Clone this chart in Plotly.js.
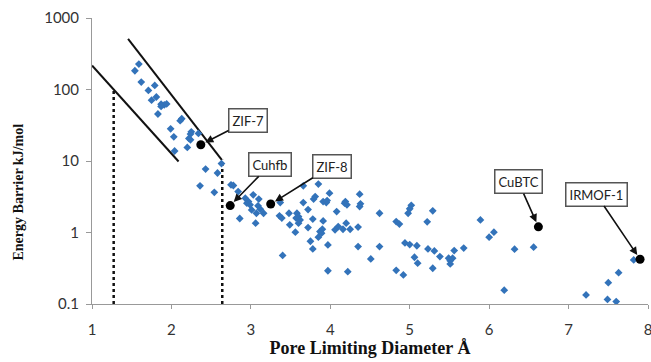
<!DOCTYPE html>
<html>
<head>
<meta charset="utf-8">
<script src="https://cdn.plot.ly/plotly-3.0.1.min.js"></script>
<style>
  html, body { margin: 0; padding: 0; background: #fff; }
  #chart { width: 651px; height: 362px; }
</style>
</head>
<body>
<div id="chart"></div>
<script>
// Pore limiting diameter (Å) of the screened structures
const poreDiameter = [
  1.59, 1.54, 1.62, 1.79, 1.71, 1.81, 1.75, 1.87, 1.91, 1.94, 1.87, 1.83,
  2.13, 2.11, 1.99, 2.25, 2.24, 2.34, 2.03, 2.22, 2.24, 2.20, 2.04,
  2.63, 2.43, 2.58,
  2.36, 2.54, 2.75, 2.78, 2.84, 2.86, 2.93, 2.97, 2.95, 2.99, 3.03, 3.10,
  3.09, 3.12, 3.01, 3.07, 3.16, 3.06,
  3.37, 3.36, 3.39, 3.48, 3.49, 3.58, 3.60, 3.57, 3.62, 3.60, 3.66, 3.66,
  3.72, 3.56, 3.72, 3.78, 3.75, 3.40, 3.85, 3.78,
  3.81, 3.79, 3.99, 3.91, 3.95, 3.96, 4.19, 4.21, 4.18, 4.37, 4.38, 4.37,
  4.08, 3.91, 3.90, 3.87, 3.89, 3.85, 4.06, 4.10, 4.16, 4.25, 4.20, 4.35,
  3.97, 4.35, 4.62, 4.62, 4.51, 3.97, 4.22,
  4.83, 4.87, 5.02, 5.00, 4.98, 4.94, 5.00, 5.09, 5.06, 5.10, 5.22, 4.83, 4.92,
  5.29, 5.23, 5.31, 5.38, 5.56, 5.68, 5.49, 5.54, 5.51, 5.51, 5.29,
  5.89, 6.06, 6.00, 6.32, 6.56, 6.19,
  7.22, 7.49, 7.60, 7.50, 7.63, 7.82
];
// Energy barrier (kJ/mol)
const energyBarrier = [
  227, 183, 127, 114, 97, 78.5, 70.8, 62.3, 61, 62.9, 58, 45.4,
  39, 36.6, 28.2, 25.6, 23.8, 24.3, 21.8, 20.7, 19.8, 15.5, 13.8,
  9.2, 7.7, 6.8,
  4.5, 3.65, 4.64, 4.54, 3.74, 1.57, 3.02, 2.71, 2.57, 2.44, 3.36, 2.93,
  2.36, 2.12, 2.07, 1.86, 1.86, 1.35,
  2.62, 1.71, 1.59, 1.86, 1.28, 1.86, 1.67, 1.59, 1.50, 1.35, 4.5, 2.62,
  2.09, 1.01, 1.17, 1.54, 0.755, 0.478, 4.75, 0.589,
  3.18, 2.93, 3.55, 2.71, 2.62, 2.80, 2.71, 2.44, 2.57, 3.44, 2.52, 2.31,
  1.96, 1.45, 1.11, 1.03, 0.98, 0.86, 1.09, 1.21, 1.11, 1.11, 1.35, 1.19,
  0.67, 0.635, 0.635, 1.86, 0.427, 0.292, 0.283,
  1.42, 1.31, 2.40, 2.15, 1.86, 0.715, 0.677, 0.653, 0.451, 0.372, 1.41, 0.296, 0.255,
  2.01, 0.589, 0.552, 0.460, 0.558, 0.605, 0.437, 0.437, 0.404, 0.363, 0.316,
  1.50, 1.01, 0.86, 0.584, 0.623, 0.156,
  0.134, 0.116, 0.108, 0.199, 0.274, 0.413
];

// Highlighted materials
const mofNames = ["ZIF-7", "Cuhfb", "ZIF-8", "CuBTC", "IRMOF-1"];
const mofDiameter = [2.37, 2.74, 3.25, 6.62, 7.90];
const mofBarrier = [16.9, 2.38, 2.50, 1.20, 0.423];

// Bounding lines
const lowerLineX = [1.0, 2.09];
const lowerLineY = [217, 9.84];
const upperLineX = [1.454, 2.634];
const upperLineY = [510, 10.4];
const leftCutX = [1.273, 1.273];
const leftCutY = [0.1, 99];
const rightCutX = [2.64, 2.64];
const rightCutY = [0.1, 10.4];

// Axis ticks and titles
const xTickVals = [1, 2, 3, 4, 5, 6, 7, 8];
const yTickVals = [0.1, 1, 10, 100, 1000];
const yTickText = ["0.1", "1", "10", "100", "1000"];
const xTitle = "Pore Limiting Diameter Å";
const yTitle = "Energy Barrier kJ/mol";

// Label box offsets (pixels) for each highlighted material
const labelAx = [47, 40, 61, -20, -44];
const labelAy = [-24, -41, -38, -45, -65];

const sans = 'Lato, "Open Sans", sans-serif';
const serif = '"Liberation Serif", "DejaVu Serif", serif';

const traces = [
  {
    x: lowerLineX, y: lowerLineY, type: 'scatter', mode: 'lines',
    line: { color: '#111', width: 2 }, hoverinfo: 'skip'
  },
  {
    x: upperLineX, y: upperLineY, type: 'scatter', mode: 'lines',
    line: { color: '#111', width: 2 }, hoverinfo: 'skip'
  },
  {
    x: leftCutX, y: leftCutY, type: 'scatter', mode: 'lines',
    line: { color: '#111', width: 2.5, dash: 'dot' }, hoverinfo: 'skip'
  },
  {
    x: rightCutX, y: rightCutY, type: 'scatter', mode: 'lines',
    line: { color: '#111', width: 2.5, dash: 'dot' }, hoverinfo: 'skip'
  },
  {
    x: poreDiameter, y: energyBarrier, type: 'scatter', mode: 'markers',
    marker: { symbol: 'diamond', size: 6, color: '#3373BA' }
  },
  {
    x: mofDiameter, y: mofBarrier, type: 'scatter', mode: 'markers',
    marker: { symbol: 'circle', size: 9, color: '#000' }
  }
];

const annotations = mofNames.map((name, i) => ({
  x: mofDiameter[i], y: Math.log10(mofBarrier[i]),
  xref: 'x', yref: 'y',
  text: name,
  showarrow: true, arrowhead: 2, arrowsize: 1, arrowwidth: 1.6, arrowcolor: '#111',
  standoff: 5,
  ax: labelAx[i], ay: labelAy[i],
  font: { family: sans, size: 13, color: '#222' },
  bgcolor: '#fff', bordercolor: '#555', borderwidth: 1.5, borderpad: 3
}));

// Y axis title placed as a rotated annotation (it sits below the plot's centre)
annotations.push({
  text: '<b>' + yTitle + '</b>',
  xref: 'paper', yref: 'paper',
  x: -0.133, y: 0.39, xanchor: 'center', yanchor: 'middle',
  textangle: -90, showarrow: false,
  font: { family: serif, size: 14, color: '#111' }
});

const layout = {
  width: 651, height: 362,
  margin: { l: 92, r: 3, t: 18, b: 58 },
  paper_bgcolor: '#fff', plot_bgcolor: '#fff',
  showlegend: false,
  xaxis: {
    range: [1, 8], tickvals: xTickVals,
    showgrid: false, zeroline: false,
    showline: true, linecolor: '#999', linewidth: 1,
    ticks: 'outside', ticklen: 4, tickcolor: '#999',
    ticklabelstandoff: 8, ticklabeloverflow: 'allow',
    tickfont: { family: sans, size: 15, color: '#333' },
    title: {
      text: '<b>' + xTitle + '</b>',
      font: { family: serif, size: 18, color: '#111' },
      standoff: 4
    }
  },
  yaxis: {
    type: 'log', range: [-1, 3],
    tickvals: yTickVals, ticktext: yTickText,
    showgrid: false, zeroline: false,
    showline: true, linecolor: '#999', linewidth: 1,
    ticks: 'outside', ticklen: 5, tickcolor: '#999',
    ticklabelstandoff: 4,
    tickfont: { family: sans, size: 15, color: '#333' }
  },
  annotations: annotations
};

Plotly.newPlot('chart', traces, layout, { displayModeBar: false, staticPlot: true });
</script>
</body>
</html>
